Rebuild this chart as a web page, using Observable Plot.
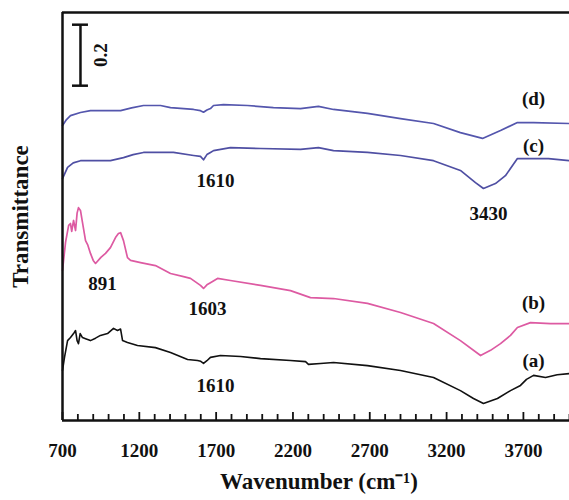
<!DOCTYPE html>
<html>
<head>
<meta charset="utf-8">
<script src="https://cdn.jsdelivr.net/npm/d3@7"></script>
<script src="https://cdn.jsdelivr.net/npm/@observablehq/plot@0.6"></script>
<style>
  html, body { margin: 0; padding: 0; background: #fff; }
</style>
</head>
<body>
<div id="chart"></div>
<script>
// Wavenumber (cm-1) and relative transmittance
const waveA = [700,713,733,752,772,785,795,804,815,830,850,882,915,947,993,1032,1058,1078,1091,1123,1188,1305,1403,1514,1579,1600,1618,1640,1663,1728,1859,1989,2184,2282,2301,2379,2464,2685,2900,3115,3290,3375,3440,3531,3616,3681,3720,3766,3844,3920,4000];
const transA = [0.164,0.207,0.262,0.272,0.285,0.295,0.262,0.252,0.285,0.272,0.268,0.262,0.270,0.279,0.285,0.302,0.295,0.300,0.262,0.256,0.246,0.239,0.223,0.200,0.197,0.194,0.187,0.196,0.207,0.213,0.210,0.203,0.197,0.193,0.184,0.187,0.190,0.180,0.164,0.141,0.098,0.072,0.056,0.072,0.098,0.115,0.135,0.148,0.141,0.150,0.154];

const waveB = [700,720,740,752,760,772,785,795,804,817,830,850,865,882,900,915,950,980,1012,1045,1064,1078,1097,1123,1143,1208,1305,1403,1488,1533,1598,1618,1640,1663,1709,1793,1989,2184,2314,2464,2685,2900,3115,3290,3421,3486,3551,3616,3661,3746,3876,4000];
const transB = [0.492,0.585,0.640,0.646,0.620,0.656,0.623,0.680,0.698,0.689,0.650,0.590,0.575,0.548,0.525,0.515,0.535,0.548,0.567,0.600,0.613,0.616,0.590,0.534,0.525,0.518,0.508,0.482,0.472,0.466,0.443,0.433,0.445,0.452,0.466,0.459,0.443,0.426,0.403,0.400,0.384,0.354,0.318,0.262,0.213,0.230,0.252,0.279,0.305,0.321,0.318,0.318];

const waveC = [700,733,770,817,1012,1097,1160,1227,1422,1553,1598,1618,1640,1663,1683,1793,1989,2249,2366,2464,2685,2900,3115,3290,3388,3440,3518,3583,3661,3746,3863,4000];
const transC = [0.793,0.830,0.845,0.852,0.852,0.862,0.872,0.879,0.879,0.869,0.866,0.855,0.872,0.879,0.885,0.895,0.892,0.889,0.895,0.885,0.879,0.869,0.852,0.820,0.780,0.761,0.777,0.803,0.859,0.859,0.859,0.852];

const waveD = [700,726,752,817,882,1078,1150,1227,1338,1403,1553,1598,1618,1640,1663,1683,1748,1904,2073,2249,2366,2464,2685,2900,3115,3290,3434,3551,3661,3766,4000];
const transD = [0.967,0.987,1.000,1.010,1.016,1.016,1.025,1.033,1.033,1.026,1.020,1.016,1.011,1.018,1.023,1.033,1.036,1.033,1.026,1.023,1.030,1.020,1.007,0.990,0.974,0.944,0.925,0.951,0.977,0.977,0.974];

const curveNames = ["(a)", "(b)", "(c)", "(d)"];
const curveColors = ["#111111", "#dd5aa2", "#4f4fa3", "#5456ad"];

// Annotations: text, wavenumber, transmittance
const noteText = ["(d)", "(c)", "(b)", "(a)", "3430", "1610", "891", "1603", "1610"];
const noteWave = [3766, 3766, 3766, 3766, 3473, 1696, 960, 1644, 1696];
const noteTrans = [1.056, 0.902, 0.384, 0.197, 0.679, 0.787, 0.449, 0.367, 0.115];

// Scale bar (0.2 units)
const barWave = 817;
const barCapWave = [765, 869];
const barLow = 1.098;
const barSize = 0.2;
const barLabelWave = 947;

const xDomain = [700, 4000];
const yDomain = [0, 1.338];
const majorTicks = [700, 1200, 1700, 2200, 2700, 3200, 3700];
const minorTicks = d3.range(700, 4001, 100).filter(t => !majorTicks.includes(t));

const series = [waveA, waveB, waveC, waveD].map((w, i) => {
  const t = [transA, transB, transC, transD][i];
  return w.map((x, j) => ({x, y: t[j], name: curveNames[i]}));
});
const notes = noteText.map((text, i) => ({text, x: noteWave[i], y: noteTrans[i]}));

const font = '"Liberation Serif", "Times New Roman", serif';
const H = 500, MT = 12, MB = 80;
const frameH = H - MT - MB;
const unitsPerPx = (yDomain[1] - yDomain[0]) / frameH;

const chart = Plot.plot({
  width: 569,
  height: H,
  marginLeft: 62,
  marginRight: 0,
  marginTop: MT,
  marginBottom: MB,
  style: {fontFamily: font, fontWeight: "bold", fontSize: "19px", color: "#111", background: "#fff"},
  x: {domain: xDomain},
  y: {domain: yDomain, axis: null},
  marks: [
    ...series.map((s, i) => Plot.line(s, {x: "x", y: "y", stroke: curveColors[i], strokeWidth: i === 0 ? 1.6 : 1.7})),
    // inward ticks
    Plot.ruleX(minorTicks, {x: d => d, y1: yDomain[0], y2: yDomain[0] + 6 * unitsPerPx, stroke: "#111", strokeWidth: 1.8}),
    Plot.ruleX(majorTicks, {x: d => d, y1: yDomain[0], y2: yDomain[0] + 8 * unitsPerPx, stroke: "#111", strokeWidth: 1.8}),
    Plot.ruleY([yDomain[1]], {stroke: "#111", strokeWidth: 2.5}),
    Plot.ruleY([yDomain[0]], {stroke: "#111", strokeWidth: 2.5}),
    Plot.ruleX([xDomain[0]], {stroke: "#111", strokeWidth: 2.5}),
    Plot.axisX({ticks: majorTicks, tickSize: 0, tickPadding: 23, tickFormat: d => String(d), fontSize: 19, fontFamily: font, fontWeight: "bold", label: null}),
    Plot.text(["Wavenumber (cm\u207B\u00B9)"], {frameAnchor: "bottom", dx: 3, dy: 68, fontSize: 23, fontFamily: font, fontWeight: "bold", fill: "#111"}),
    Plot.text(["Transmittance"], {frameAnchor: "left", textAnchor: "middle", dx: -42, rotate: -90, fontSize: 23, fontFamily: font, fontWeight: "bold", fill: "#111"}),
    Plot.text(notes, {x: "x", y: "y", text: "text", fontSize: 19, fontFamily: font, fontWeight: "bold", fill: "#111"}),
    // scale bar
    Plot.ruleX([barWave], {y1: barLow, y2: barLow + barSize, stroke: "#111", strokeWidth: 2.5}),
    Plot.ruleY([barLow, barLow + barSize], {x1: barCapWave[0], x2: barCapWave[1], stroke: "#111", strokeWidth: 2.5}),
    Plot.text(["0.2"], {x: barLabelWave, y: barLow + barSize / 2, rotate: -90, fontSize: 19, fontFamily: font, fontWeight: "bold", fill: "#111"})
  ]
});
document.getElementById("chart").appendChild(chart);
</script>
</body>
</html>
